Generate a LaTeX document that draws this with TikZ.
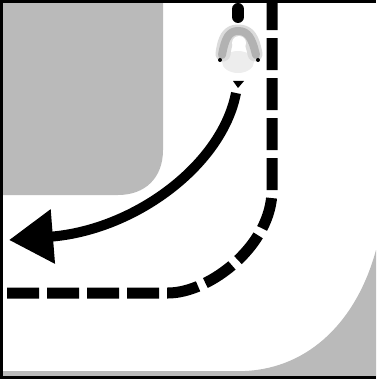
\documentclass[tikz,border=0pt]{standalone}
\usetikzlibrary{arrows.meta}
\definecolor{kerb}{gray}{0.73}
\definecolor{rider}{gray}{0.70}
\definecolor{riderglow}{gray}{0.86}
\definecolor{riderfade}{gray}{0.93}
\tikzset{
  lanemark/.style={line width=11pt, dash pattern=on 32pt off 8pt},
  turnline/.style={line width=10pt, -{Triangle[length=44pt, width=52pt]}},
  riderarm/.style={line cap=round, line join=round},
}
\begin{document}
\begin{tikzpicture}[x=1pt, y=-1pt]
  \useasboundingbox (0,0) rectangle (376,379);
  % Kerb blocks
  \fill[kerb] (0,0) -- (163,0) -- (163,150)
    .. controls (163,178) and (145,195) .. (118,195) -- (0,195) -- cycle;
  \fill[kerb] (376,250) .. controls (357,320) and (310,368) .. (245,371)
    -- (0,371) -- (0,379) -- (376,379) -- cycle;
  % Centre line
  \draw[lanemark] (7,293) -- (168,293)
    .. controls (210,293) and (272,245) .. (272,190) -- (272,-4);
  % Path of the turn
  \draw[turnline] (236,93) .. controls (222,165) and (135,230) .. (9,240);
  % Rider seen from above
  \draw[line width=12pt, line cap=round] (238,9) -- (238,17);
  \fill[riderfade] (238,62) ellipse (16 and 11);
  \draw[riderglow, riderarm, line width=15pt] (223,54) .. controls (225,38) and (229,32) .. (238,32)
    .. controls (248,32) and (252,38) .. (255,54);
  \draw[rider, riderarm, line width=8pt] (222,55) .. controls (225,38) and (229,31) .. (238,31)
    .. controls (248,31) and (252,38) .. (256,55);
  \fill[white] (239,43) circle (7);
  \fill (220,60) circle (2);
  \fill (258,60) circle (2);
  \fill (233,81) -- (244,81) -- (238,88) -- cycle;
  % Frame
  \draw[line width=3pt] (1.5,379) -- (1.5,1.5) -- (376,1.5);
  \draw[line width=3pt] (0,377.5) -- (376,377.5);
\end{tikzpicture}
\end{document}
